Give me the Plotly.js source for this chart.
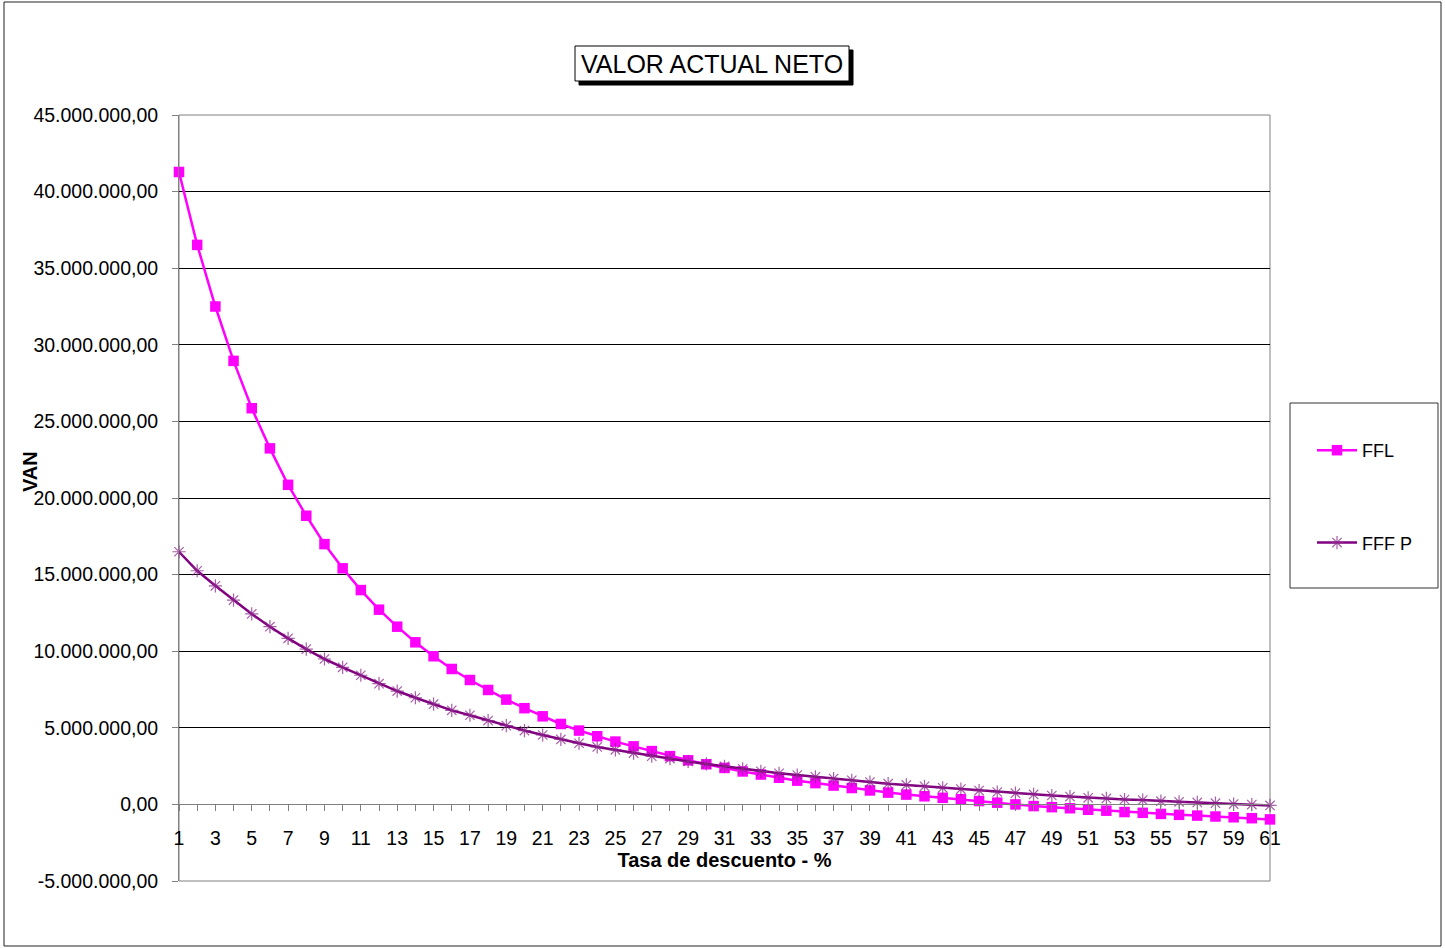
<!DOCTYPE html>
<html><head><meta charset="utf-8">
<script src="https://cdn.plot.ly/plotly-3.0.1.min.js"></script>
<style>html,body{margin:0;padding:0;background:#fff}#chart{width:1445px;height:948px}</style>
</head><body><div id="chart"></div>
<script>
const tasa = [1,2,3,4,5,6,7,8,9,10,11,12,13,14,15,16,17,18,19,20,21,22,23,24,25,26,27,28,29,30,
  31,32,33,34,35,36,37,38,39,40,41,42,43,44,45,46,47,48,49,50,51,52,53,54,55,56,57,58,59,60,61];
const xTickLabels = ['1','','3','','5','','7','','9','','11','','13','','15','','17','','19','','21','','23','','25','','27','','29','',
  '31','','33','','35','','37','','39','','41','','43','','45','','47','','49','','51','','53','','55','','57','','59','','61'];
const ffl = [41280000,36520000,32500000,28950000,25860000,23240000,20860000,18840000,16990000,15410000,
  13990000,12710000,11600000,10580000,9670000,8840000,8120000,7470000,6840000,6280000,
  5750000,5250000,4820000,4450000,4100000,3790000,3480000,3150000,2880000,2620000,
  2380000,2150000,1950000,1740000,1550000,1390000,1230000,1070000,910000,770000,
  640000,530000,430000,340000,220000,110000,0,-110000,-180000,-250000,
  -350000,-410000,-500000,-550000,-620000,-680000,-730000,-790000,-840000,-900000,-980000];
const fffp = [16490000,15250000,14270000,13340000,12430000,11600000,10840000,10140000,9490000,8950000,
  8430000,7880000,7400000,6960000,6540000,6140000,5820000,5470000,5140000,4820000,
  4530000,4240000,3990000,3750000,3560000,3350000,3150000,2990000,2800000,2640000,
  2480000,2320000,2160000,2030000,1920000,1800000,1690000,1570000,1460000,1350000,
  1270000,1180000,1080000,1000000,900000,810000,730000,650000,580000,510000,
  430000,390000,320000,280000,210000,170000,130000,80000,20000,-10000,-70000];
const yTickValues = [-5000000,0,5000000,10000000,15000000,20000000,25000000,30000000,35000000,40000000,45000000];
const yTickLabels = ['-5.000.000,00','0,00','5.000.000,00','10.000.000,00','15.000.000,00','20.000.000,00',
  '25.000.000,00','30.000.000,00','35.000.000,00','40.000.000,00','45.000.000,00'];
const seriesNames = ['FFL','FFF P'];
const chartTitle = 'VALOR ACTUAL NETO';
const xTitle = 'Tasa de descuento - %';
const yTitle = 'VAN';

// layout geometry (pixels)
const W = 1445, H = 948, L = 179, R = 1270, T = 115, B = 881;
const px = x => (x - L) / (R - L);
const py = y => (B - y) / (B - T);
const FONT = 'Liberation Sans, Arial, sans-serif';

const traces = [
  {x: tasa, y: ffl, name: seriesNames[0], type: 'scatter', mode: 'lines+markers', cliponaxis: false,
   legendgroup: 'a',
   line: {color: '#FF00FF', width: 2.5},
   marker: {symbol: 'square', size: 10.5, color: '#FF00FF'}},
  {x: tasa, y: fffp, name: seriesNames[1], type: 'scatter', mode: 'lines+markers', cliponaxis: false,
   legendgroup: 'b',
   line: {color: '#800080', width: 2.5},
   marker: {symbol: 'asterisk-open', size: 11, color: 'rgba(140,40,140,0.75)', line: {width: 1.2, color: 'rgba(140,40,140,0.75)'}}}
];

const layout = {
  width: W, height: H,
  margin: {l: L, r: W - R, t: T, b: H - B, pad: 0},
  paper_bgcolor: '#fff', plot_bgcolor: '#fff',
  font: {family: FONT, color: '#000', size: 19},
  showlegend: true,
  legend: {x: px(1312), y: py(432), xanchor: 'left', yanchor: 'top', bgcolor: 'rgba(0,0,0,0)',
    borderwidth: 0, font: {size: 18, family: FONT}, tracegroupgap: 66, traceorder: 'grouped', itemwidth: 40},
  xaxis: {
    range: [1, 61], anchor: 'free', position: 0.1,
    tickmode: 'array', tickvals: tasa, ticktext: xTickLabels,
    ticks: 'outside', ticklen: 6, tickcolor: '#808080', tickwidth: 1,
    showline: true, linecolor: '#808080', linewidth: 1,
    showgrid: false, zeroline: false,
    tickfont: {size: 19.5, family: FONT},
    ticklabelstandoff: 10,
    title: {text: xTitle, font: {size: 20, family: FONT, weight: 'bold'}, standoff: 2}
  },
  yaxis: {
    range: [-5000000, 45000000],
    tickmode: 'array', tickvals: yTickValues, ticktext: yTickLabels,
    ticks: 'outside', ticklen: 6, tickcolor: '#808080', tickwidth: 1,
    showline: true, linecolor: '#808080', linewidth: 1,
    showgrid: true, gridcolor: '#000', gridwidth: 1, zeroline: false,
    tickfont: {size: 19.5, family: FONT},
    ticklabelstandoff: 10
  },
  shapes: [
    {type: 'rect', xref: 'paper', yref: 'paper', x0: px(4), x1: px(1441), y0: py(946), y1: py(2),
     line: {color: '#222', width: 1}, fillcolor: 'rgba(0,0,0,0)'},
    {type: 'rect', xref: 'paper', yref: 'paper', x0: 0, x1: 1, y0: 0, y1: 1,
     line: {color: '#808080', width: 1}, fillcolor: 'rgba(0,0,0,0)', layer: 'below'},
    {type: 'rect', xref: 'paper', yref: 'paper', x0: px(1290), x1: px(1438), y0: py(588), y1: py(403),
     line: {color: '#333', width: 1}, fillcolor: 'rgba(0,0,0,0)'},
    // title box shadow and box
    {type: 'rect', xref: 'paper', yref: 'paper', x0: px(579), x1: px(853), y0: py(85), y1: py(50),
     line: {color: '#000', width: 1}, fillcolor: '#000'},
    {type: 'rect', xref: 'paper', yref: 'paper', x0: px(575), x1: px(849), y0: py(81), y1: py(46),
     line: {color: '#000', width: 1}, fillcolor: '#fff'}
  ],
  annotations: [
    {text: chartTitle, xref: 'paper', yref: 'paper', x: px(712), y: py(63.5), xanchor: 'center', yanchor: 'middle',
     showarrow: false,
     font: {size: 25, family: FONT, color: '#000'}},
    {text: yTitle, xref: 'paper', yref: 'paper', x: px(30), y: py(472), xanchor: 'center', yanchor: 'middle',
     showarrow: false, textangle: -90,
     font: {size: 20, family: FONT, color: '#000', weight: 'bold'}}
  ]
};

Plotly.newPlot('chart', traces, layout, {displayModeBar: false, staticPlot: true});
</script></body></html>
